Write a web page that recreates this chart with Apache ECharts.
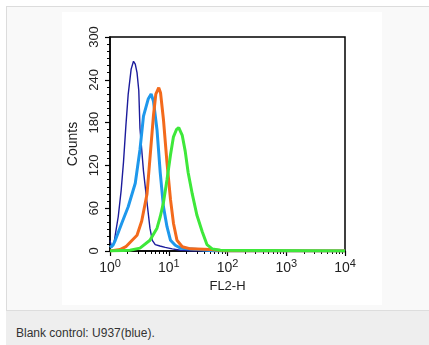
<!DOCTYPE html>
<html><head><meta charset="utf-8">
<script src="https://cdn.jsdelivr.net/npm/echarts@6/dist/echarts.min.js"></script>
<style>
html,body{margin:0;padding:0;background:#fff;width:429px;height:345px;overflow:hidden;font-family:"Liberation Sans",Arial,sans-serif;}
#card{position:absolute;left:6px;top:6px;width:440px;height:345px;background:#f9f9f9;border:1px solid #dcdcdc;}
#chart{position:absolute;left:62px;top:12px;width:320px;height:293px;background:#fff;}
#cap{position:absolute;left:6px;top:310px;width:430px;height:40px;background:#eeeeee;border-top:1px solid #dddddd;}
#cap span{position:absolute;left:10px;top:15px;font-size:12px;color:#333;}
</style>
</head><body>
<div id="card"></div>
<div id="chart"></div>
<div id="cap"><span>Blank control: U937(blue).</span></div>
<script>
// x positions are log10(FL2-H)
const decades = [0, 1, 2, 3, 4];
const yTicks = [0, 60, 120, 180, 240, 300];

const navyLog = [0, 0.03, 0.07, 0.10, 0.14, 0.19, 0.23, 0.27, 0.31, 0.36, 0.40, 0.43, 0.46, 0.49, 0.51, 0.57, 0.63, 0.68, 0.72, 0.77, 0.85, 0.94, 1.06, 1.2, 1.4, 4];
const navyCounts = [15, 5, 12, 28, 48, 85, 125, 175, 220, 255, 266, 262, 250, 225, 172, 112, 68, 32, 15, 9, 7, 5, 3, 1, 0, 0];

const lblueLog = [0, 0.05, 0.09, 0.20, 0.31, 0.43, 0.51, 0.57, 0.65, 0.70, 0.74, 0.80, 0.855, 0.91, 0.97, 1.03, 1.11, 1.2, 1.5, 1.8, 4];
const lblueCounts = [5, 8, 15, 39, 62, 95, 142, 189, 213, 220, 210, 170, 110, 62, 34, 15, 8, 4, 2, 0, 0];

const orangeLog = [0, 0.17, 0.27, 0.34, 0.46, 0.54, 0.63, 0.68, 0.74, 0.78, 0.83, 0.86, 0.91, 0.97, 1.03, 1.08, 1.14, 1.23, 1.37, 1.71, 1.97, 4];
const orangeCounts = [0, 2, 6, 12, 22, 42, 80, 130, 190, 220, 229, 222, 184, 124, 72, 39, 15, 6, 3, 2, 0, 0];

const greenLog = [0, 0.34, 0.51, 0.68, 0.80, 0.855, 0.91, 0.97, 1.03, 1.08, 1.13, 1.17, 1.23, 1.28, 1.33, 1.40, 1.48, 1.57, 1.65, 1.74, 1.88, 4];
const greenCounts = [0, 1, 4, 15, 32, 48, 68, 100, 135, 160, 170, 173, 162, 140, 110, 80, 50, 27, 9, 3, 1, 0];

const zip = (xs, ys) => xs.map((x, i) => [x, ys[i]]);
const minorLog = [];
for (let d = 0; d < 4; d++) for (let k = 2; k <= 9; k++) minorLog.push(d + Math.log10(k));

const chart = echarts.init(document.getElementById('chart'), null, {renderer: 'canvas'});
const txt = '#222';
const font = '"Liberation Sans", Arial, sans-serif';
const mkSeries = (name, data, color, w) => ({
  name, type: 'line', data, symbol: 'none', xAxisIndex: 0,
  lineStyle: {color, width: w}, z: 2, animation: false
});
chart.setOption({
  animation: false,
  grid: {left: 48, top: 25, right: 37, bottom: 54, show: true, borderColor: '#000', borderWidth: 1.5,
    backgroundColor: 'transparent', containLabel: false, outerBoundsMode: 'none'},
  xAxis: [{
    type: 'value', min: 0, max: 4, interval: 1,
    name: 'FL2-H', nameLocation: 'middle', nameGap: 27,
    nameTextStyle: {color: txt, fontSize: 13, fontFamily: font},
    axisLine: {show: true, lineStyle: {color: '#000', width: 1.5}},
    axisTick: {show: true, length: 5, inside: false, lineStyle: {color: '#000', width: 1.2}, customValues: decades},
    axisLabel: {
      color: txt, fontFamily: font, margin: 7, customValues: decades,
      formatter: v => '{b|10}{s|' + v + '}',
      rich: {b: {fontSize: 14, color: txt, fontFamily: font}, s: {fontSize: 11, color: txt, fontFamily: font, padding: [0, 0, 9, 0]}}
    },
    splitLine: {show: false}
  }, {
    type: 'value', min: 0, max: 4, position: 'bottom', gridIndex: 0,
    axisLine: {show: false},
    axisTick: {show: true, length: 3, lineStyle: {color: '#000', width: 1}, customValues: minorLog},
    axisLabel: {show: false},
    splitLine: {show: false}
  }],
  yAxis: {
    type: 'value', min: 0, max: 300, interval: 60,
    name: 'Counts', nameLocation: 'middle', nameGap: 22, nameRotate: 90,
    nameTextStyle: {color: txt, fontSize: 14, fontFamily: font},
    axisLine: {show: true, lineStyle: {color: '#000', width: 1.5}},
    axisTick: {show: true, length: 5, lineStyle: {color: '#000', width: 1.2}},
    minorTick: {show: true, splitNumber: 6, length: 3, lineStyle: {color: '#000', width: 1}},
    axisLabel: {color: txt, fontSize: 13, fontFamily: font, rotate: 90, margin: 9,
      formatter: v => yTicks.includes(v) ? String(v) : ''},
    splitLine: {show: false}
  },
  series: [
    mkSeries('navy', zip(navyLog, navyCounts), '#1c1c9c', 1.4),
    mkSeries('lightblue', zip(lblueLog, lblueCounts), '#1e98ec', 3),
    mkSeries('orange', zip(orangeLog, orangeCounts), '#f36a1c', 3),
    mkSeries('green', zip(greenLog, greenCounts), '#3ee83a', 3)
  ]
});
</script>
</body></html>
